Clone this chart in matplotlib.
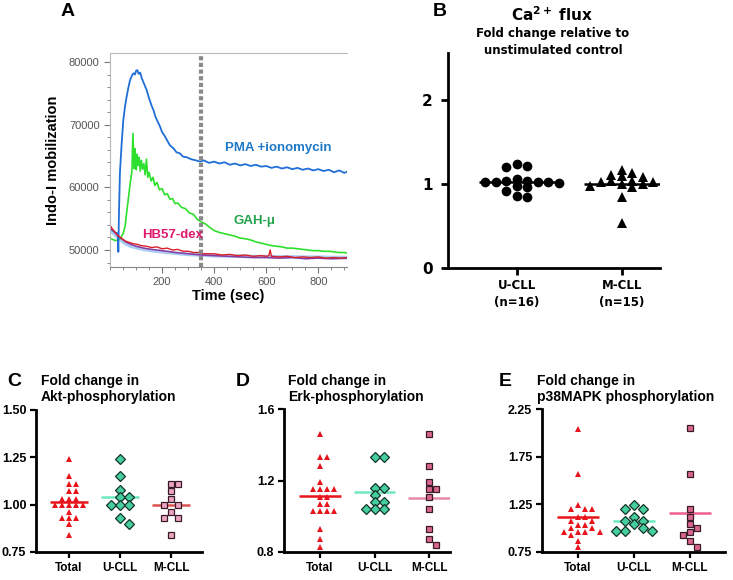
import matplotlib
matplotlib.use('Agg')
import matplotlib.pyplot as plt
from matplotlib.ticker import MultipleLocator

W, H = 733, 580

# ---- panel A: Indo-1 traces ----
pma_t = [0, 10, 20, 30, 32, 34, 38, 44, 51, 58, 64, 70, 77, 84, 90, 96, 100, 105, 110, 116,
         122, 130, 141, 150, 160, 167, 175, 184, 192, 200, 210, 218, 230, 244, 255, 269, 280,
         295, 310, 330, 346, 360, 380, 400, 420, 440, 460, 480, 500, 520, 540, 560, 580, 600,
         620, 640, 660, 680, 700, 720, 740, 760, 780, 800, 820, 840, 860, 880, 900, 910]
pma_v = [53500, 53100, 52800, 52600, 49700, 55000, 62200, 66500, 70700, 73000, 74500, 75800,
         77100, 77800, 78200, 78000, 78600, 78700, 78100, 78300, 77400, 76600, 75500, 74200,
         73000, 72300, 71200, 70400, 69700, 68800, 68200, 67600, 66700, 66200, 65600, 65400,
         64900, 64800, 64500, 64300, 64100, 64300, 63900, 64100, 63800, 64000, 63600, 63800,
         63500, 63700, 63400, 63600, 63300, 63400, 63100, 63300, 63000, 63200, 62900, 63100,
         62800, 63000, 62700, 62900, 62600, 62800, 62400, 62700, 62300, 62500]

gah_t = [0, 10, 20, 30, 40, 50, 58, 64, 70, 77, 84, 88, 92, 95, 98, 101, 104, 108, 112, 116,
         120, 125, 130, 135, 140, 145, 150, 158, 165, 172, 180, 190, 200, 210, 220, 230, 240,
         250, 260, 275, 290, 305, 320, 335, 350, 365, 380, 400, 420, 440, 460, 480, 500, 520,
         540, 560, 580, 600, 620, 640, 660, 680, 700, 720, 740, 760, 780, 800, 820, 840, 860,
         880, 900, 910]
gah_v = [51900, 51700, 51500, 51600, 51800, 52600, 53800, 56000, 58000, 60500, 62500, 68600,
         63000, 66200, 64000, 62800, 65300, 63500, 64800, 62600, 64300, 62900, 63800, 62000,
         64500, 61600, 62400, 61000, 61600, 60300, 60800, 59600, 59800, 58800, 59000, 58100,
         58200, 57400, 57500, 56800, 56600, 55900, 55700, 54900, 54500, 54200, 53700, 53100,
         52800, 52600, 52400, 52200, 51900, 51800, 51600, 51300, 51100, 50900, 50700, 50600,
         50500, 50300, 50300, 50200, 50100, 50000, 49900, 49900, 49800, 49800, 49700, 49600,
         49600, 49500]

hb_t = [0, 10, 20, 30, 40, 50, 60, 75, 90, 105, 120, 140, 160, 180, 200, 220, 240, 260, 280,
        300, 320, 340, 360, 380, 400, 430, 460, 490, 520, 550, 580, 600, 610, 615, 620, 650,
        680, 710, 740, 770, 800, 830, 860, 890, 910]
hb_v = [54000, 53300, 52800, 52300, 52000, 51700, 51400, 51200, 51000, 50900, 50700, 50600,
        50400, 50500, 50200, 50300, 50000, 50100, 49800, 49800, 49600, 49600, 49400, 49400,
        49400, 49200, 49300, 49100, 49200, 49000, 49100, 49000, 49100, 50000, 49000, 48900,
        49000, 48800, 48900, 48800, 48900, 48700, 48800, 48700, 48800]

ctl_t = [0, 15, 30, 45, 60, 80, 100, 130, 160, 200, 250, 300, 350, 400, 450, 500, 550, 600,
         650, 700, 750, 800, 850, 910]
ctl_v = [53600, 53000, 52300, 51800, 51300, 50900, 50600, 50300, 50100, 49900, 49600, 49400,
         49200, 49100, 49000, 48900, 48800, 48800, 48700, 48800, 48600, 48700, 48600, 48700]
pale_v = [53200, 52600, 52000, 51500, 51000, 50600, 50400, 50100, 49900, 49700, 49500, 49300,
          49200, 49100, 49050, 49000, 48950, 48950, 48900, 48900, 48850, 48850, 48800, 48800]

# ---- panel B: Ca2+ flux fold change ----
b_groups = ['U-CLL\n(n=16)', 'M-CLL\n(n=15)']
b_ucll = [1.24, 1.22, 1.20, 1.06, 1.04, 1.03, 1.02, 1.02, 1.02, 1.02, 1.01, 0.98, 0.96, 0.92,
          0.86, 0.84]
b_mcll = [1.17, 1.13, 1.11, 1.09, 1.08, 1.04, 1.03, 1.02, 1.02, 1.00, 1.00, 0.98, 0.96, 0.85,
          0.54]

# ---- panels C-E: phosphorylation fold change ----
cats = ['Total', 'U-CLL', 'M-CLL']
akt_total = [1.24, 1.15, 1.11, 1.11, 1.07, 1.07, 1.03, 1.03, 1.03, 1.00, 1.00, 1.00, 1.00, 1.00,
             0.96, 0.93, 0.93, 0.93, 0.90, 0.84]
akt_u = [1.24, 1.15, 1.08, 1.04, 1.04, 1.00, 1.00, 1.00, 0.93, 0.90]
akt_m = [1.11, 1.11, 1.07, 1.03, 1.00, 1.00, 0.96, 0.93, 0.93, 0.84]

erk_total = [1.46, 1.33, 1.33, 1.28, 1.19, 1.15, 1.15, 1.15, 1.15, 1.11, 1.11, 1.07, 1.07, 1.03,
             1.03, 1.03, 1.03, 0.93, 0.87, 0.83]
erk_u = [1.33, 1.33, 1.16, 1.16, 1.12, 1.08, 1.08, 1.04, 1.04, 1.04]
erk_m = [1.46, 1.28, 1.19, 1.15, 1.15, 1.11, 1.04, 0.93, 0.87, 0.84]

p38_total = [2.04, 1.57, 1.24, 1.20, 1.20, 1.20, 1.12, 1.12, 1.08, 1.08, 1.03, 1.03, 1.00, 1.00,
             0.96, 0.96, 0.96, 0.96, 0.93, 0.87, 0.80]
p38_u = [1.24, 1.20, 1.20, 1.12, 1.08, 1.08, 1.04, 1.00, 0.97, 0.97, 0.97]
p38_m = [2.05, 1.57, 1.20, 1.12, 1.04, 1.00, 0.96, 0.93, 0.87, 0.80]


def add_ax(fig, left, top, right, bottom):
    return fig.add_axes([left / W, 1 - bottom / H, (right - left) / W, (bottom - top) / H])


def swarm(vals, step_px, h_px, px_x, px_y):
    # column-grid beeswarm: same column only if far enough apart vertically
    order = sorted(range(len(vals)), key=lambda i: -vals[i])
    placed = []
    offs = [0.0] * len(vals)
    for i in order:
        y = vals[i] * px_y
        cands = [0]
        for k in range(1, 20):
            cands += [k, -k]
        for c in cands:
            if all(not (pc == c and abs(py - y) < h_px) for pc, py in placed):
                break
        placed.append((c, y))
        offs[i] = c * step_px / px_x
    return offs


fig = plt.figure(figsize=(W / 100, H / 100), dpi=100)
fig.patch.set_facecolor('white')

arial = 'Liberation Sans'
verd = 'DejaVu Sans'

# ================= A =================
axA = add_ax(fig, 110, 53, 347, 267)
axA.plot(ctl_t, pale_v, color='#a9cdf3', lw=2.6)
axA.plot(gah_t, gah_v, color='#2ee02e', lw=1.2)
axA.plot(pma_t, pma_v, color='#1f6fd6', lw=1.3)
axA.plot(ctl_t, ctl_v, color='#8b3aa0', lw=1.1)
axA.plot(hb_t, hb_v, color='#d8202a', lw=1.0)
axA.axvline(350, color='#8a8a8a', lw=3, ls=(0, (1.0, 0.6)))
axA.set_xlim(0, 910)
axA.set_ylim(47290, 81430)
axA.xaxis.set_minor_locator(MultipleLocator(50))
axA.yaxis.set_major_locator(MultipleLocator(10000))
axA.yaxis.set_minor_locator(MultipleLocator(2000))
axA.set_xticks([200, 400, 600, 800])
for s in ['top', 'left']:
    axA.spines[s].set_color('#b8b8b8')
axA.spines['right'].set_visible(False)
axA.spines['bottom'].set_color('#888888')
axA.tick_params(axis='both', which='both', colors='#777777', labelcolor='#555555',
                labelsize=8, direction='out')
axA.tick_params(axis='both', which='major', length=4)
axA.tick_params(axis='both', which='minor', length=2)
for lab in axA.get_xticklabels() + axA.get_yticklabels():
    lab.set_fontfamily(arial)
axA.set_ylabel('Indo-I mobilization', fontsize=10.5, fontweight='bold', family=arial, labelpad=6)
axA.set_xlabel('Time (sec)', fontsize=10.5, fontweight='bold', family=arial, labelpad=1)
axA.text(442, 66300, 'PMA +ionomycin', color='#1e78c8', fontsize=9.5, fontweight='bold',
         family=arial, va='center')
axA.text(473, 54600, 'GAH-\u03bc', color='#22a34a', fontsize=9.5, fontweight='bold',
         family=arial, va='center')
axA.text(124, 52400, 'HB57-dex', color='#e0186c', fontsize=9.5, fontweight='bold',
         family=arial, va='center')
fig.text(68 / W, 1 - 12 / H, 'A', fontsize=14, fontweight='bold', family=arial,
         ha='center', va='center')

# ================= B =================
axB = add_ax(fig, 448, 53, 660, 268)
bx0, bx1, by0, by1 = -0.657, 1.362, 0, 2.56
axB.set_xlim(bx0, bx1)
axB.set_ylim(by0, by1)
pxx = (660 - 448) / (bx1 - bx0)
pxy = (268 - 53) / (by1 - by0)
offU = swarm(b_ucll, 10.5, 6.0, pxx, pxy)
offM = swarm(b_mcll, 10.5, 6.5, pxx, pxy)
axB.plot([0 + o for o in offU], b_ucll, 'o', color='black', ms=7, mew=0, clip_on=False)
axB.plot([1 + o for o in offM], b_mcll, '^', color='black', ms=7.5, mew=0, clip_on=False)
for k, vals in enumerate([b_ucll, b_mcll]):
    m = sum(vals) / len(vals)
    axB.plot([k - 0.36, k + 0.36], [m, m], color='black', lw=1.8, solid_capstyle='butt')
for s in ['top', 'right']:
    axB.spines[s].set_visible(False)
for s in ['left', 'bottom']:
    axB.spines[s].set_linewidth(2)
axB.set_yticks([0, 1, 2])
axB.set_yticklabels(['0', '1', '2'], fontsize=11, fontweight='bold', family=verd)
axB.set_xticks([0, 1])
axB.set_xticklabels(b_groups, fontsize=8.5, fontweight='bold', family=verd, linespacing=1.4)
axB.tick_params(axis='both', width=2, length=5, direction='out', pad=3)
axB.tick_params(axis='y', pad=6)
fig.text(440 / W, 1 - 11 / H, 'B', fontsize=14, fontweight='bold', family=arial,
         ha='center', va='center')
fig.text(552 / W, 1 - 15 / H, r'Ca$^{\mathbf{2+}}$ flux', fontsize=11, fontweight='bold',
         family=verd, ha='center', va='center')
fig.text(553 / W, 1 - 33 / H, 'Fold change relative to', fontsize=8.5, fontweight='bold',
         family=verd, ha='center', va='center')
fig.text(553 / W, 1 - 50 / H, 'unstimulated control', fontsize=8.5, fontweight='bold',
         family=verd, ha='center', va='center')

# ================= C, D, E =================
panels = [
    dict(letter='C', box=(36, 410, 202, 552), ticks=(69, 121, 171), ylim=(0.75, 1.50),
         yt=[0.75, 1.00, 1.25, 1.50], yfmt='%.2f', data=(akt_total, akt_u, akt_m),
         title='Fold change in\nAkt-phosphorylation', tx=41, lx=14,
         mface='#eba6c2', mline='#d9534f'),
    dict(letter='D', box=(284, 409, 450, 552), ticks=(320, 375, 429), ylim=(0.8, 1.6),
         yt=[0.8, 1.2, 1.6], yfmt='%.1f', data=(erk_total, erk_u, erk_m),
         title='Fold change in\nErk-phosphorylation', tx=288, lx=243,
         mface='#d9668f', mline='#e58aaa'),
    dict(letter='E', box=(542, 409, 725, 552), ticks=(578, 632, 690), ylim=(0.75, 2.25),
         yt=[0.75, 1.25, 1.75, 2.25], yfmt='%.2f', data=(p38_total, p38_u, p38_m),
         title='Fold change in\np38MAPK phosphorylation', tx=537, lx=505,
         mface='#d9668f', mline='#f0608f'),
]

for p in panels:
    l, t, r, b = p['box']
    ax = add_ax(fig, l, t, r, b)
    t0, t1, t2 = p['ticks']
    ppu = (t2 - t0) / 2
    x0 = -(t0 - l) / ppu
    x1 = 2 + (r - t2) / ppu
    ax.set_xlim(x0, x1)
    ax.set_ylim(*p['ylim'])
    pxy = (b - t) / (p['ylim'][1] - p['ylim'][0])
    tot, uu, mm = p['data']
    o1 = swarm(tot, 7.2, 5.0, ppu, pxy)
    o2 = swarm(uu, 9.0, 7.0, ppu, pxy)
    o3 = swarm(mm, 7.2, 7.0, ppu, pxy)
    ax.plot([0 + o for o in o1], tot, '^', color='#e8141c', ms=5, mew=0, clip_on=False)
    ax.plot([1 + o for o in o2], uu, 'D', mfc='#46cf9c', mec='#14332a', ms=5.0, mew=0.9,
            clip_on=False)
    ax.plot([2 + o for o in o3], mm, 's', mfc=p['mface'], mec='#3a1a26', ms=5, mew=0.9,
            clip_on=False)
    for k, (vals, col) in enumerate(zip([tot, uu, mm], ['#e8141c', '#6ee8c2', p['mline']])):
        mval = sum(vals) / len(vals)
        ax.plot([k - 0.38, k + 0.38], [mval, mval], color=col, lw=1.8,
                solid_capstyle='butt', zorder=1)
    for s in ['top', 'right']:
        ax.spines[s].set_visible(False)
    for s in ['left', 'bottom']:
        ax.spines[s].set_linewidth(2)
    ax.set_yticks(p['yt'])
    ax.set_yticklabels([p['yfmt'] % v for v in p['yt']], fontsize=9, fontweight='bold',
                       family=arial)
    ax.set_xticks([0, 1, 2])
    ax.set_xticklabels(cats, fontsize=8.5, fontweight='bold', family=arial)
    ax.tick_params(axis='both', width=1.6, length=4, direction='out', pad=3)
    fig.text(p['tx'] / W, 1 - 389 / H, p['title'], fontsize=10, fontweight='bold',
             family=arial, ha='left', va='center', linespacing=1.25)
    fig.text(p['lx'] / W, 1 - 382 / H, p['letter'], fontsize=14, fontweight='bold',
             family=arial, ha='center', va='center')

fig.savefig('out.png', dpi=100)
